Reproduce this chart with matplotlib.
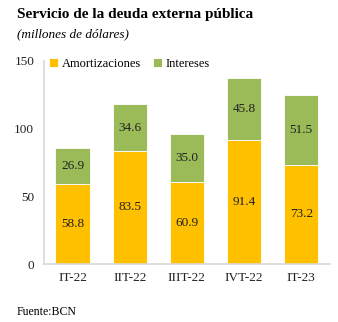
import matplotlib.pyplot as plt
import numpy as np

plt.rcParams['font.family'] = ['Liberation Serif', 'DejaVu Serif']

trimestres = ['IT-22', 'IIT-22', 'IIIT-22', 'IVT-22', 'IT-23']
amortizaciones = [58.8, 83.5, 60.9, 91.4, 73.2]
intereses = [26.9, 34.6, 35.0, 45.8, 51.5]

c_amort = '#FFC000'
c_int = '#9BBB59'

fig = plt.figure(figsize=(3.38, 3.22), dpi=100)
ax = fig.add_axes([0.130, 0.180, 0.846, 0.631])

x = np.arange(len(trimestres))
w = 0.6
ax.bar(x, amortizaciones, w, color=c_amort, edgecolor='white', linewidth=0.6, label='Amortizaciones')
ax.bar(x, intereses, w, bottom=amortizaciones, color=c_int, edgecolor='white', linewidth=0.6, label='Intereses')

for i in range(len(x)):
    ax.text(x[i], amortizaciones[i] / 2, '%.1f' % amortizaciones[i], ha='center', va='center', fontsize=9.5, color='#222222')
    ax.text(x[i], amortizaciones[i] + intereses[i] / 2, '%.1f' % intereses[i], ha='center', va='center', fontsize=9.5, color='#222222')

ax.set_xlim(-0.5, 4.5)
ax.set_ylim(0, 150)
ax.set_yticks([0, 50, 100, 150])
ax.set_xticks(x)
ax.set_xticklabels(trimestres)
ax.tick_params(length=0, labelsize=9.5, colors='#222222')
ax.tick_params(axis='y', pad=7)
ax.tick_params(axis='x', pad=6)
for s in ['top', 'right']:
    ax.spines[s].set_visible(False)
ax.spines['left'].set_color('#D9D9D9')
ax.spines['bottom'].set_color('#D9D9D9')
ax.spines['left'].set_linewidth(1.2)
ax.spines['bottom'].set_linewidth(1.2)

ax.legend(loc='upper left', bbox_to_anchor=(0.0, 1.04), ncol=2, frameon=False, fontsize=9,
          handlelength=0.7, handleheight=0.7, handletextpad=0.3, columnspacing=1.0, borderaxespad=0)

fig.text(0.05, 0.955, 'Servicio de la deuda externa pública', fontsize=11, fontweight='bold', va='center')
fig.text(0.05, 0.895, '(millones de dólares)', fontsize=9.5, style='italic', va='center')
fig.text(0.05, 0.03, 'Fuente:BCN', fontsize=8.5, va='center')

fig.savefig('out.png', dpi=100)
